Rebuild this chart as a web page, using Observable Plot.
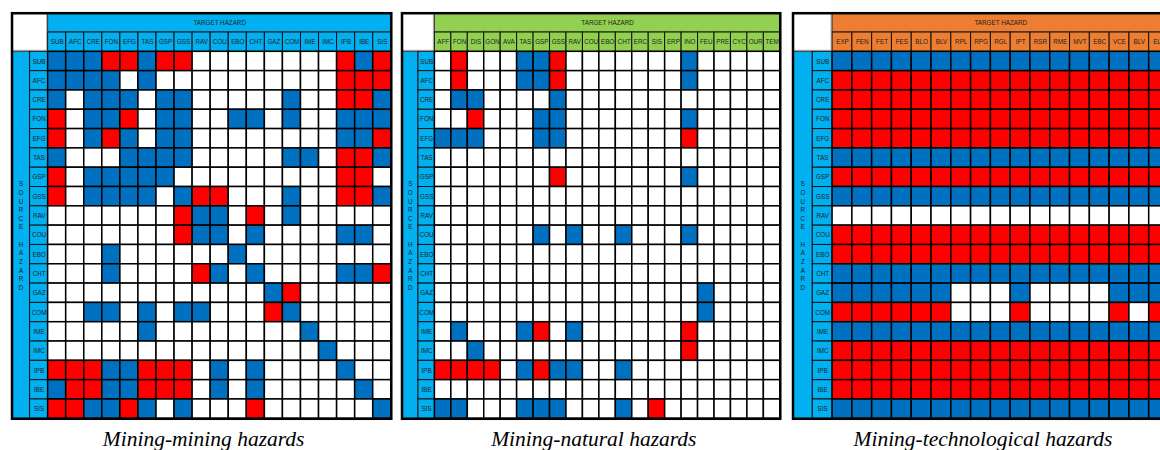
<!DOCTYPE html>
<html><head><meta charset="utf-8">
<script src="https://cdn.jsdelivr.net/npm/d3@7"></script>
<script src="https://cdn.jsdelivr.net/npm/@observablehq/plot@0.6"></script>
<style>
html,body{margin:0;padding:0;overflow:hidden;background:#fff;width:1160px;height:450px;}
#root{position:relative;width:1160px;height:450px;overflow:hidden;}
.panel{position:absolute;top:0;}
.panel svg{max-width:none !important;}
.cap{position:absolute;top:429px;font-family:"Liberation Serif","Times New Roman",serif;font-style:italic;font-size:21.5px;line-height:21.5px;text-align:center;white-space:nowrap;color:#000;}
</style></head><body><div id="root"></div>
<script>
// ---- data ----
const sources = ["SUB","AFC","CRE","FON","EFG","TAS","GSP","GSS","RAV","COU","EBO","CHT","GAZ","COM","IME","IMC","IPB","IBE","SIS"];
const miningTargets = ["SUB","AFC","CRE","FON","EFG","TAS","GSP","GSS","RAV","COU","EBO","CHT","GAZ","COM","IME","IMC","IPB","IBE","SIS"];
const naturalTargets = ["AFF","FON","DIS","GON","AVA","TAS","GSP","GSS","RAV","COU","EBO","CHT","ERC","SIS","ERP","INO","FEU","PRE","CYC","OUR","TEM"];
const techTargets = ["EXP","FEN","FET","FES","BLO","BLV","RPL","RPG","RGL","IPT","RSR","RME","MVT","EBC","VCE","BLV","ELE"];
// B = blue, R = red, 0 = empty (one string per source row)
const miningRows = [
  "BBBRRBRR00000000RBR",
  "BBBB0B0000000000RRR",
  "B0BBB0BB00000B00RRB",
  "R0BBR0BB00BB0B00BBB",
  "R0BRB0BB00000000BBR",
  "B000BBBB00000BB0RRB",
  "R0BBBBB000000000RR0",
  "R0BBBB0BRR000B00RRB",
  "0000000RBB0R0B00000",
  "0000000RBB0B0000BB0",
  "000B000000B00000000",
  "000B0000RB0B0000BBR",
  "000000000000BR00000",
  "00BB0B0BB000RB00000",
  "00000B00000000B0000",
  "000000000000000B000",
  "RRRBBRRR0B0B0000B00",
  "BRRBBRRR0B0B00000B0",
  "RRBBRB0B000R000000B"
];
const naturalRows = [
  "0R000BBR0000000B00000",
  "0R000BBR0000000B00000",
  "0BB0000B0000000000000",
  "00R000BB0000000B00000",
  "BBB000BB0000000R00000",
  "000000000000000000000",
  "0000000R0000000B00000",
  "000000000000000000000",
  "000000000000000000000",
  "000000B0B00B000B00000",
  "000000000000000000000",
  "000000000000000000000",
  "0000000000000000B0000",
  "0000000000000000B0000",
  "0B000BR0B000000R00000",
  "00B000000000000R00000",
  "RRRR0BRBB00B000000000",
  "000000000000000000000",
  "BB000BBB000B0R0000000"
];
const techRows = [
  "BBBBBBBBBBBBBBBBB",
  "RRRRRRRRRRRRRRRRR",
  "RRRRRRRRRRRRRRRRR",
  "RRRRRRRRRRRRRRRRR",
  "RRRRRRRRRRRRRRRRR",
  "BBBBBBBBBBBBBBBBB",
  "RRRRRRRRRRRRRRRRR",
  "BBBBBBBBBBBBBBBBB",
  "00000000000000000",
  "RRRRRRRRRRRRRRRRR",
  "RRRRRRRRRRRRRRRRR",
  "BBBBBBBBBBBBBBBBB",
  "BBBBBB000B0000BBB",
  "RRRRRR000R0000R0R",
  "BBBBBBBBBBBBBBBBB",
  "RRRRRRRRRRRRRRRRR",
  "RRRRRRRRRRRRRRRRR",
  "RRRRRRRRRRRRRRRRR",
  "BBBBBBBBBBBBBBBBB"
];
const captions = ["Mining-mining hazards", "Mining-natural hazards", "Mining-technological hazards"];
const headerTitle = "TARGET HAZARD";
const sideTitle = "SOURCE HAZARD";
const cellCodes = ["B", "R", "0"];

// ---- styles / layout ----
const cellColors = ["#0070C0", "#FF0000", "#FFFFFF"];
const headerFills = ["#00B0F0", "#92D050", "#ED7D31"];
const sideFill = "#00B0F0";
const frames = [[11, 390.3], [401.7, 780], [792, 1168]];
const txt = {fontFamily: "Liberation Sans, Arial, sans-serif", fontSize: 6.3, fill: "#222"};

function drawPanel(targets, rows, headerFill, frameLeft, frameRight) {
  const nC = targets.length, nR = sources.length, L = 2, T = 2;
  const mL = 1.5, mR = 1.5;
  const width = frameRight - frameLeft + mL + mR;
  const cells = rows.flatMap((row, i) => Array.from(row, (code, j) => ({i, j, code})));
  const colCells = targets.map((t, j) => ({t, j}));
  const rowCells = sources.map((s, i) => ({s, i}));
  return Plot.plot({
    width, height: 420,
    marginTop: 12.7, marginBottom: 1.7, marginLeft: mL, marginRight: mR,
    x: {domain: [0, nC + L], axis: null},
    y: {domain: [0, nR + T], axis: null, reverse: true},
    color: {domain: cellCodes, range: cellColors},
    style: {background: "transparent", overflow: "visible"},
    marks: [
      Plot.rect([0], {x1: () => 0, x2: () => L, y1: () => 0, y2: () => T, fill: "white", stroke: "#b8b8b8", strokeWidth: 1.2, inset: 1}),
      Plot.rect([headerTitle], {x1: () => L, x2: () => L + nC, y1: () => 0, y2: () => 1, fill: headerFill, stroke: "#333", strokeWidth: 1}),
      Plot.text([headerTitle], {x: () => L + nC / 2, y: () => 0.5, text: d => d, ...txt}),
      Plot.rect(colCells, {x1: d => L + d.j, x2: d => L + d.j + 1, y1: () => 1, y2: () => 2, fill: headerFill, stroke: "#111", strokeWidth: 1}),
      Plot.text(colCells, {x: d => L + d.j + 0.5, y: () => 1.5, text: "t", ...txt}),
      Plot.rect([sideTitle], {x1: () => 0, x2: () => 1, y1: () => T, y2: () => T + nR, fill: sideFill, stroke: "#333", strokeWidth: 1}),
      Plot.text([sideTitle], {x: () => 0.5, y: () => T + nR / 2, text: d => Array.from(d).join("\n"), lineHeight: 1.37, ...txt}),
      Plot.rect(rowCells, {x1: () => 1, x2: () => 2, y1: d => T + d.i, y2: d => T + d.i + 1, fill: sideFill, stroke: "#111", strokeWidth: 1}),
      Plot.text(rowCells, {x: () => 1.5, y: d => T + d.i + 0.5, text: "s", ...txt}),
      Plot.rect(cells, {x1: d => L + d.j, x2: d => L + d.j + 1, y1: d => T + d.i, y2: d => T + d.i + 1, fill: "code", stroke: "#000", strokeWidth: 1.5}),
      Plot.frame({stroke: "#000", strokeWidth: 2.5})
    ]
  });
}

const root = document.getElementById("root");
const specs = [[miningTargets, miningRows], [naturalTargets, naturalRows], [techTargets, techRows]];
specs.forEach(([targets, rows], k) => {
  const [fl, fr] = frames[k];
  const div = document.createElement("div");
  div.className = "panel";
  div.style.left = (fl - 1.5) + "px";
  div.appendChild(drawPanel(targets, rows, headerFills[k], fl, fr));
  root.appendChild(div);
  const cap = document.createElement("div");
  cap.className = "cap";
  cap.style.left = (fl + 3) + "px";
  cap.style.width = (fr - fl) + "px";
  cap.textContent = captions[k];
  root.appendChild(cap);
});
</script></body></html>
